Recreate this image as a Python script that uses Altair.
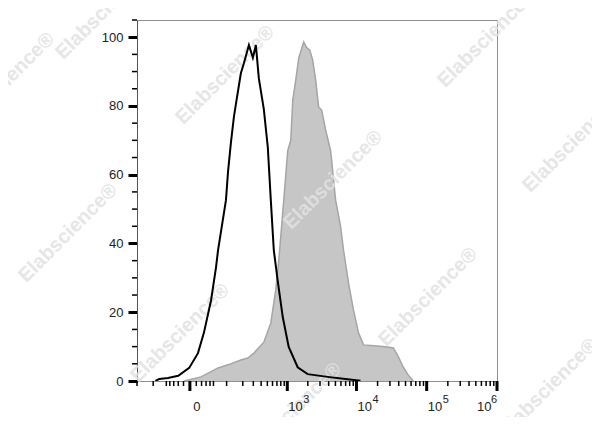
import altair as alt
import pandas as pd

# ---- data ----
# control (unstained) histogram, black line
ctrl_x = [-90, -74, -45, -20, -1, 13, 25, 43, 58, 65, 97, 107, 122, 139, 159, 185, 209,
          254, 295, 330, 368, 441, 508, 565, 628, 721, 856, 1049, 1423, 1990, 3860, 7450, 11400]
ctrl_y = [0.0, 0.6, 0.9, 1.5, 3.8, 8.1, 14, 23.5, 33, 38, 52.6, 61, 69.5, 77, 82.8, 89.5, 92.4,
          97.7, 94, 97.7, 88, 79, 68, 52.6, 38, 29, 18.6, 9.9, 4, 2, 1.2, 0.5, 0.1]

# stained histogram, grey filled
stain_x = [-9, 19, 65, 107, 185, 244, 306, 441, 565, 672, 746, 886, 1015, 1126, 1204, 1333,
           1475, 1742, 1926, 2128, 2349, 2597, 2868, 3169, 3616, 4266, 5031, 5925, 6540, 7700,
           9070, 10690, 12600, 19900, 27600, 33600, 39600, 46600, 54800, 64600]
stain_y = [0, 1.2, 3.8, 4.7, 6.1, 6.7, 8.1, 11.3, 16.9, 26.5, 35, 52.6, 67, 70, 81.7, 87.6,
           94, 98.6, 97, 96.3, 93.4, 87.6, 79.7, 78.8, 73, 67, 52.6, 45, 38, 28.5,
           20.6, 14, 10.5, 10.2, 9.9, 9.6, 7, 4, 1.7, 0]

y_major = [0, 20, 40, 60, 80, 100]
y_minor = [5, 10, 15, 25, 30, 35, 45, 50, 55, 65, 70, 75, 85, 90, 95, 105]

x_major = [0, 1000, 10000, 100000, 1000000]
x_minor = ([-200, -100, -50, -40, -30, -20, -10, 10, 20, 30, 40, 50]
           + [m * 100 for m in range(1, 10)]
           + [m * 1000 for m in range(2, 10)]
           + [m * 10000 for m in range(2, 10)]
           + [m * 100000 for m in range(2, 10)])

exp_ticks = [1000, 10000, 100000]
exp_labels = ["3", "4", "5"]

watermark_text = "Elabscience®"

# ---- layout ----
W, H = 360, 361
FONT = "Liberation Sans"

xscale = alt.Scale(type="symlog", constant=43, domain=[-200, 1000000], nice=False)
yscale = alt.Scale(domain=[0, 105], nice=False)

stain_df = pd.DataFrame({"x": stain_x, "y": stain_y})
ctrl_df = pd.DataFrame({"x": ctrl_x, "y": ctrl_y})

area = alt.Chart(stain_df).mark_area(
    color="#c6c6c6", opacity=1, fillOpacity=1,
    line={"color": "#a5a5a5", "strokeWidth": 1.5}, clip=True
).encode(
    x=alt.X("x:Q", scale=xscale, axis=None),
    y=alt.Y("y:Q", scale=yscale, axis=alt.Axis(
        values=y_major, tickSize=9, tickWidth=3, tickColor="black",
        domainColor="#555555", labelFont=FONT, labelFontSize=13, labelColor="#222222",
        labelPadding=5, grid=False, title=None)),
)

line = alt.Chart(ctrl_df).mark_line(color="black", strokeWidth=2, clip=True).encode(
    x=alt.X("x:Q", scale=xscale),
    y=alt.Y("y:Q", scale=yscale),
)

ymin = alt.Chart(pd.DataFrame({"y": y_minor})).mark_rule(color="black", strokeWidth=1.5).encode(
    y=alt.Y("y:Q", scale=yscale), x=alt.value(-5), x2=alt.value(0)
)

xmin = alt.Chart(pd.DataFrame({"v": x_minor})).mark_rule(color="black", strokeWidth=1.5).encode(
    x=alt.X("v:Q", scale=xscale), y=alt.value(H), y2=alt.value(H + 5)
)
xmaj = alt.Chart(pd.DataFrame({"v": x_major})).mark_rule(color="black", strokeWidth=3).encode(
    x=alt.X("v:Q", scale=xscale), y=alt.value(H), y2=alt.value(H + 10)
)

lab0 = alt.Chart(pd.DataFrame({"v": [0], "t": ["0"]})).mark_text(
    font=FONT, fontSize=13, color="#222222", align="center", baseline="middle", dx=7
).encode(x=alt.X("v:Q", scale=xscale), y=alt.value(H + 26), text="t:N")

exp_df = pd.DataFrame({"v": exp_ticks, "base": ["10"] * 3, "e": exp_labels})
lab10 = alt.Chart(exp_df).mark_text(
    font=FONT, fontSize=13, color="#222222", align="left", baseline="middle", dx=1
).encode(x=alt.X("v:Q", scale=xscale), y=alt.value(H + 26), text="base:N")
labe = alt.Chart(exp_df).mark_text(
    font=FONT, fontSize=11, color="#222222", align="left", baseline="middle", dx=16
).encode(x=alt.X("v:Q", scale=xscale), y=alt.value(H + 19), text="e:N")

last_df = pd.DataFrame({"v": [1000000], "base": ["10"], "e": ["6"]})
lab10b = alt.Chart(last_df).mark_text(
    font=FONT, fontSize=13, color="#222222", align="left", baseline="middle", dx=-20
).encode(x=alt.X("v:Q", scale=xscale), y=alt.value(H + 26), text="base:N")
labeb = alt.Chart(last_df).mark_text(
    font=FONT, fontSize=11, color="#222222", align="left", baseline="middle", dx=-6
).encode(x=alt.X("v:Q", scale=xscale), y=alt.value(H + 19), text="e:N")

# watermark placement (page pixel centres), decoration only
wm_pos = [(105, 10), (5, 82), (225, 75), (487, 38), (333, 180), (572, 143),
          (68, 233), (428, 297), (180, 333), (292, 412), (548, 388)]
wm_layers = []
for (px, py) in wm_pos:
    wm_layers.append(
        alt.Chart(pd.DataFrame({"t": [watermark_text]})).mark_text(
            font=FONT, fontSize=20, fontWeight="bold", color="#e2e2e2", opacity=0.85,
            angle=315, align="center", baseline="middle"
        ).encode(x=alt.value(px - 137), y=alt.value(py - 20), text="t:N")
    )

chart = alt.layer(
    area, *wm_layers, line, ymin, xmin, xmaj, lab0, lab10, labe, lab10b, labeb
).properties(
    width=W, height=H,
    autosize=alt.AutoSizeParams(type="none"),
    padding={"left": 129, "top": 12, "right": 95, "bottom": 36},
).configure_view(stroke="#8f8f8f", strokeWidth=1)

chart.save("out.html", embed_options={"renderer": "svg", "actions": False})
